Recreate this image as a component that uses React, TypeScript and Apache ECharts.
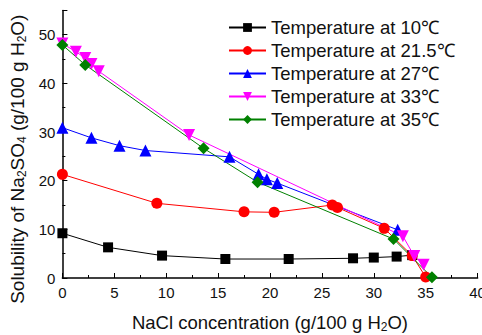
import React, { useEffect, useRef } from "react";
import * as echarts from "echarts";

const xTicks = [0, 5, 10, 15, 20, 25, 30, 35, 40];
const yTicks = [0, 10, 20, 30, 40, 50];

const seriesNames = [
  "Temperature at 10℃",
  "Temperature at 21.5℃",
  "Temperature at 27℃",
  "Temperature at 33℃",
  "Temperature at 35℃",
];

const t10X = [0, 4.4, 9.6, 15.7, 21.8, 28.0, 30.0, 32.2, 33.7];
const t10Y = [9.2, 6.3, 4.6, 3.9, 3.9, 4.05, 4.2, 4.4, 4.7];

const t21X = [0, 9.1, 17.5, 20.4, 26.0, 26.5, 31.0, 33.7, 35.0];
const t21Y = [21.3, 15.35, 13.6, 13.5, 15.0, 14.5, 10.2, 4.6, 0.2];

const t27X = [0, 2.8, 5.5, 8.0, 16.1, 18.9, 19.7, 20.7, 32.3];
const t27Y = [30.9, 28.8, 27.2, 26.2, 24.9, 21.3, 20.3, 19.5, 9.9];

const t33X = [0, 1.3, 2.2, 2.8, 3.5, 12.2, 32.8, 33.9, 34.8];
const t33Y = [48.2, 46.5, 45.2, 44.0, 42.5, 29.4, 8.6, 4.5, 2.7];

const t35X = [0, 2.2, 13.6, 18.8, 31.9, 35.6];
const t35Y = [47.9, 43.8, 26.65, 19.7, 8.0, 0.15];

const FONT = "Arial, 'Liberation Sans', sans-serif";

function pairs(xs: number[], ys: number[]) {
  return xs.map((x, i) => [x, ys[i]]);
}

export default function App() {
  const ref = useRef<HTMLDivElement>(null);
  useEffect(() => {
    if (!ref.current) return;
    const chart = echarts.init(ref.current, null, { renderer: "svg" });
    const mk = (
      name: string,
      data: number[][],
      color: string,
      symbol: string,
      size: number
    ) => ({
      name,
      type: "line",
      data,
      symbol,
      symbolSize: size,
      color,
      lineStyle: { color, width: 1 },
      itemStyle: { color },
      z: 2,
    });
    const subRich = {
      sub: { fontSize: 12, verticalAlign: "bottom", padding: [9, 0, 0, 0], color: "#111", fontFamily: FONT },
    };
    chart.setOption({
      animation: false,
      backgroundColor: "#ffffff",
      textStyle: { fontFamily: FONT },
      grid: {
        left: 62.4,
        right: 4.4,
        top: 10.4,
        bottom: 57,
        containLabel: false,
        outerBoundsMode: "none",
      },
      legend: {
        orient: "vertical",
        left: 223,
        top: 13,
        itemWidth: 37,
        itemHeight: 11,
        itemGap: 4,
        textStyle: { fontSize: 18.5, color: "#111", fontFamily: FONT },
        data: seriesNames,
      },
      xAxis: {
        type: "value",
        min: xTicks[0],
        max: xTicks[xTicks.length - 1],
        interval: 5,
        name: "NaCl concentration (g/100 g H{sub|2}O)",
        nameLocation: "middle",
        nameGap: 34,
        nameTextStyle: { fontSize: 18.5, color: "#111", fontFamily: FONT, rich: subRich },
        axisLine: { show: true, lineStyle: { color: "#000", width: 1.5 } },
        axisTick: { show: true, inside: true, length: 5, lineStyle: { color: "#000" } },
        minorTick: { show: true, splitNumber: 2, length: 3, lineStyle: { color: "#000" } },
        axisLabel: { fontSize: 15, color: "#111", margin: 7, fontFamily: FONT },
        splitLine: { show: false },
      },
      yAxis: {
        type: "value",
        min: yTicks[0],
        max: 55,
        interval: 10,
        name: "Solubility of Na{sub|2}SO{sub|4} (g/100 g H{sub|2}O)",
        nameLocation: "middle",
        nameGap: 33,
        nameTextStyle: {
          fontSize: 19,
          color: "#111",
          fontFamily: FONT,
          rich: subRich,
          padding: [0, 30, 0, 0],
        },
        axisLine: { show: true, lineStyle: { color: "#000", width: 1.5 } },
        axisTick: { show: true, inside: true, length: 5, lineStyle: { color: "#000" } },
        minorTick: { show: true, splitNumber: 2, length: 3, lineStyle: { color: "#000" } },
        axisLabel: {
          fontSize: 15,
          color: "#111",
          margin: 7,
          fontFamily: FONT,
          formatter: (v: number) => (yTicks.includes(v) ? String(v) : ""),
        },
        splitLine: { show: false },
      },
      series: [
        mk(seriesNames[0], pairs(t10X, t10Y), "#000000", "rect", 10),
        mk(seriesNames[1], pairs(t21X, t21Y), "#ff0000", "circle", 11),
        mk(seriesNames[2], pairs(t27X, t27Y), "#0000ff", "triangle", 12),
        mk(seriesNames[3], pairs(t33X, t33Y), "#ff00ff", "path://M0,0 L10,0 L5,9 Z", 12),
        mk(seriesNames[4], pairs(t35X, t35Y), "#008000", "diamond", 12),
      ],
    });
    return () => chart.dispose();
  }, []);
  return (
    <div
      ref={ref}
      style={{ position: "fixed", left: 0, top: 0, width: 482, height: 335 }}
    />
  );
}
